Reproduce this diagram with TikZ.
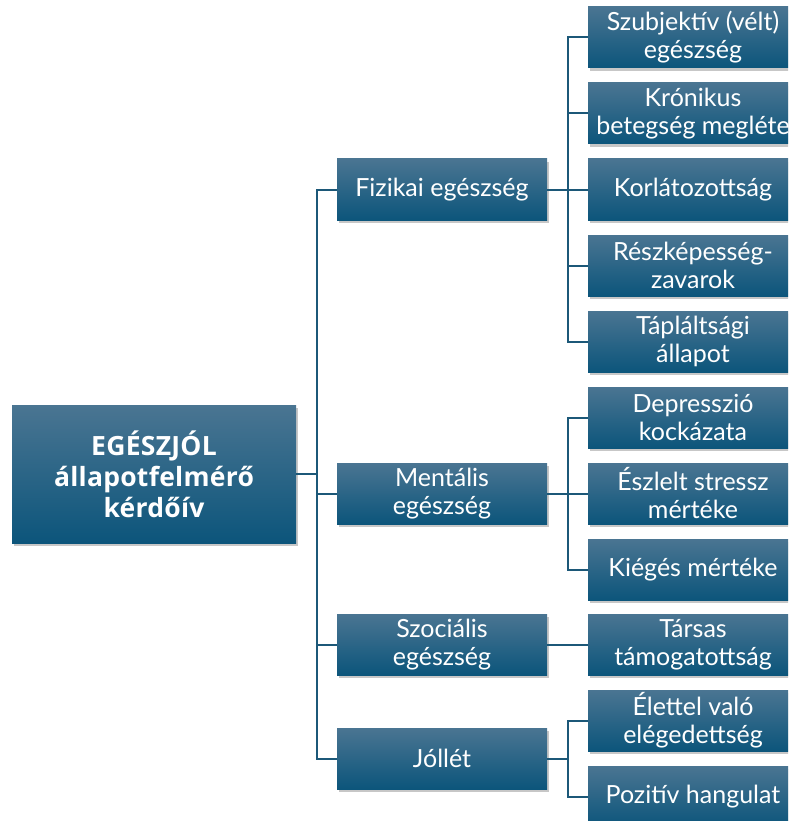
\documentclass[tikz,border=0pt]{standalone}
\usepackage{fontspec}
\setmainfont{Lato}
\newfontfamily\titlefont[LetterSpace=1]{Open Sans}
\usetikzlibrary{shadows}

\definecolor{boxtop}{HTML}{4A7592}
\definecolor{boxbot}{HTML}{0C557B}
\definecolor{linkblue}{HTML}{1C5878}

\tikzset{
  box/.style = {rectangle, minimum width=210pt, minimum height=61pt,
    inner sep=0pt, align=center, text=white,
    top color=boxtop, bottom color=boxbot,
    drop shadow={shadow xshift=2pt, shadow yshift=-3pt, fill=black, opacity=0.22},
    font=\fontsize{25}{28}\selectfont},
  rootbox/.style = {box, minimum width=284pt, minimum height=138pt,
    font=\titlefont\fontsize{26.5}{31}\selectfont\bfseries},
  link/.style = {draw=linkblue, line width=2pt},
}

\begin{document}
\begin{tikzpicture}[
    x = 1pt,
    y = -1pt,
    ]
    \useasboundingbox (0,0) rectangle (788,821);
    \clip (0,0) rectangle (788,821);
    % root
    \node[rootbox] (root) at (154,474) {EGÉSZJÓL\\állapotfelmérő\\kérdőív};
    % second level
    \node[box] (fizikai)   at (442,189.5) {Fizikai egészség};
    \node[box] (mentalis)  at (442,493.5) {Mentális\\egészség};
    \node[box] (szocialis) at (442,644.5) {Szociális\\egészség};
    \node[box] (jollet)    at (442,758.5) {Jóllét};
    % leaves
    \node[box] (szubj)   at (693,37.5)  {Szubjektív (vélt)\\egészség};
    \node[box] (kronikus) at (693,113.5) {Krónikus\\betegség megléte};
    \node[box] (korlat)  at (693,189.5) {Korlátozottság};
    \node[box] (reszkep) at (693,265.5) {Részképesség-\\zavarok};
    \node[box] (taplalt) at (693,341.5) {Tápláltsági\\állapot};
    \node[box] (depr)    at (693,417.5) {Depresszió\\kockázata};
    \node[box] (stressz) at (693,493.5) {Észlelt stressz\\mértéke};
    \node[box] (kieges)  at (693,569.5) {Kiégés mértéke};
    \node[box] (tarsas)  at (693,644.5) {Társas\\támogatottság};
    \node[box] (elettel) at (693,720.5) {Élettel való\\elégedettség};
    \node[box] (pozitiv) at (693,796.5) {Pozitív hangulat};
    % trunks
    \coordinate (t0) at (317,474);
    \coordinate (t1) at (568,189.5);
    \coordinate (t2) at (568,493.5);
    \coordinate (t4) at (568,758.5);
    % root links
    \draw[link] (root.east) -- (t0);
    \foreach \n in {fizikai, mentalis, szocialis, jollet}
    \draw[link] (t0) |- (\n.west);
    % fizikai links
    \draw[link] (fizikai.east) -- (t1);
    \foreach \n in {szubj, kronikus, korlat, reszkep, taplalt}
    \draw[link] (t1) |- (\n.west);
    % mentalis links
    \draw[link] (mentalis.east) -- (t2);
    \foreach \n in {depr, stressz, kieges}
    \draw[link] (t2) |- (\n.west);
    % szocialis link
    \draw[link] (szocialis.east) -- (tarsas.west);
    % jollet links
    \draw[link] (jollet.east) -- (t4);
    \foreach \n in {elettel, pozitiv}
    \draw[link] (t4) |- (\n.west);
  \end{tikzpicture}
\end{document}
